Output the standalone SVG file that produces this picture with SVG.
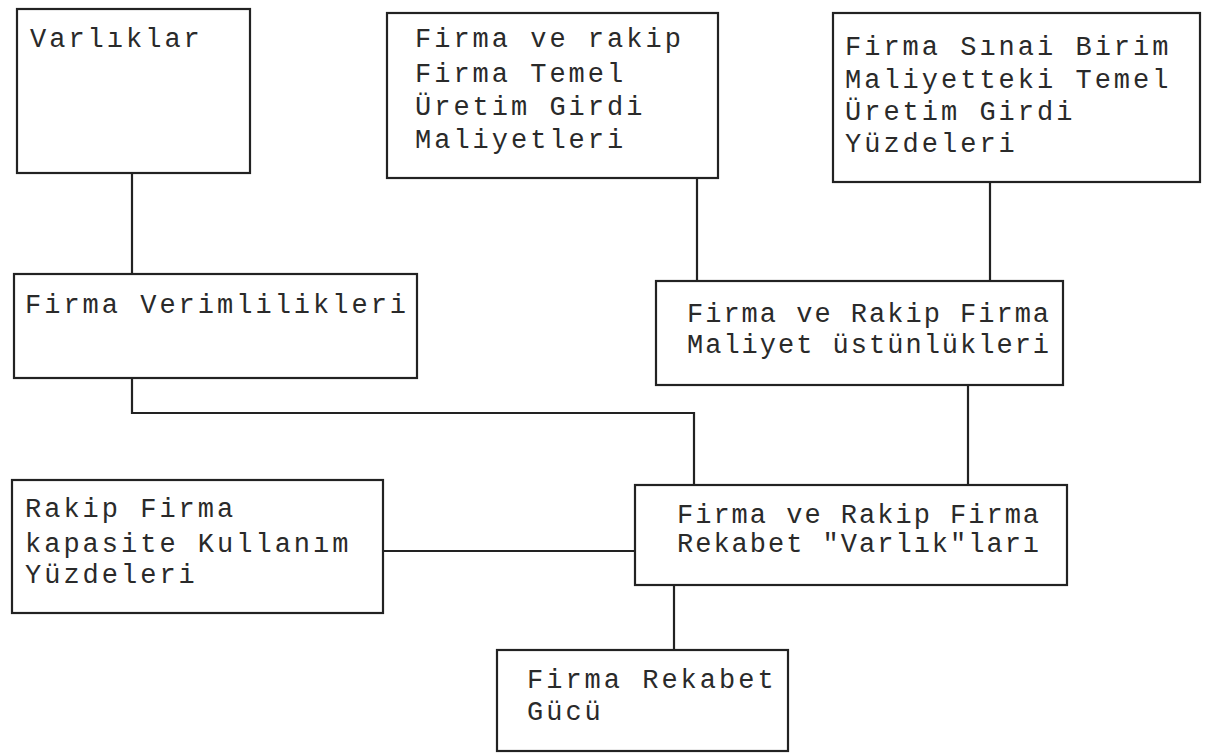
<svg xmlns="http://www.w3.org/2000/svg" width="1208" height="753" viewBox="0 0 1208 753">
<style>
.box{fill:#fff;stroke:#222;stroke-width:2.2}
.con{fill:none;stroke:#222;stroke-width:2.2}
text{font-family:"Liberation Mono","DejaVu Sans Mono",monospace;font-size:27px;letter-spacing:3px;fill:#2a2a2a}
.n{letter-spacing:2px}
</style>
<rect width="1208" height="753" fill="#fff"/>
<g id="connectors">
<line class="con" x1="132" y1="173" x2="132" y2="274"/>
<line class="con" x1="697" y1="178" x2="697" y2="281"/>
<line class="con" x1="990" y1="182" x2="990" y2="281"/>
<polyline class="con" points="132,378 132,413 694,413 694,485"/>
<line class="con" x1="968" y1="385" x2="968" y2="485"/>
<line class="con" x1="383" y1="551" x2="635" y2="551"/>
<line class="con" x1="674" y1="585" x2="674" y2="650"/>
</g>
<g id="varliklar">
<rect class="box" x="17" y="9" width="233" height="164"/>
<text x="30" y="47">Varlıklar</text>
</g>
<g id="temel-maliyet">
<rect class="box" x="387" y="13" width="331" height="165"/>
<text x="415" y="47">Firma ve rakip</text>
<text x="415" y="82">Firma Temel</text>
<text x="415" y="115">Üretim Girdi</text>
<text x="415" y="148">Maliyetleri</text>
</g>
<g id="yuzdeler">
<rect class="box" x="833" y="13" width="367" height="169"/>
<text x="845" y="55">Firma Sınai Birim</text>
<text x="845" y="88">Maliyetteki Temel</text>
<text x="845" y="120">Üretim Girdi</text>
<text x="845" y="152">Yüzdeleri</text>
</g>
<g id="verimlilik">
<rect class="box" x="14" y="274" width="403" height="104"/>
<text x="25" y="313">Firma Verimlilikleri</text>
</g>
<g id="ustunluk">
<rect class="box" x="656" y="281" width="407" height="104"/>
<text class="n" x="687" y="322">Firma ve Rakip Firma</text>
<text class="n" x="687" y="353">Maliyet üstünlükleri</text>
</g>
<g id="kapasite">
<rect class="box" x="12" y="480" width="371" height="133"/>
<text x="25" y="517">Rakip Firma</text>
<text x="25" y="552">kapasite Kullanım</text>
<text x="25" y="583">Yüzdeleri</text>
</g>
<g id="rekabet-varlik">
<rect class="box" x="635" y="485" width="432" height="100"/>
<text class="n" x="677" y="523">Firma ve Rakip Firma</text>
<text class="n" x="677" y="552">Rekabet "Varlık"ları</text>
</g>
<g id="rekabet-gucu">
<rect class="box" x="497" y="650" width="291" height="101"/>
<text x="527" y="688">Firma Rekabet</text>
<text x="527" y="720">Gücü</text>
</g>
</svg>
